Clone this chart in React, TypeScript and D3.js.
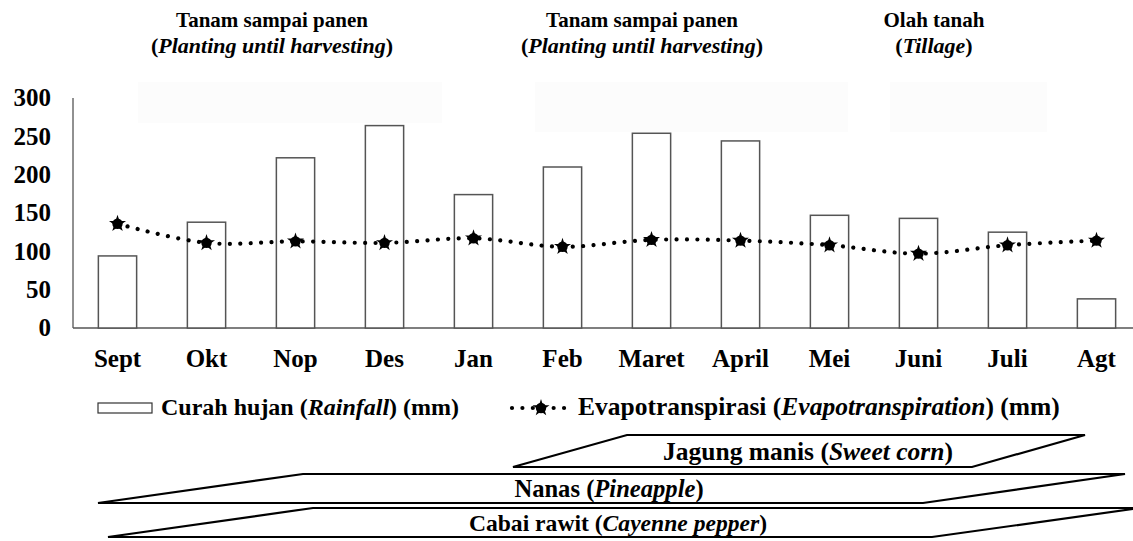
import React from 'react';
import * as d3 from 'd3';

const months = ['Sept', 'Okt', 'Nop', 'Des', 'Jan', 'Feb', 'Maret', 'April', 'Mei', 'Juni', 'Juli', 'Agt'];
const rainfall = [94, 138, 222, 264, 174, 210, 254, 244, 147, 143, 125, 38];
const evapo = [136, 111, 113, 111, 117, 106, 115, 114, 108, 97, 108, 114];
const yTicks = [0, 50, 100, 150, 200, 250, 300];

const headingTitles = ['Tanam sampai panen', 'Tanam sampai panen', 'Olah tanah'];
const headingEnglish = ['Planting until harvesting', 'Planting until harvesting', 'Tillage'];

const cropNames = ['Jagung manis', 'Nanas', 'Cabai rawit'];
const cropEnglish = ['Sweet corn', 'Pineapple', 'Cayenne pepper'];

const W = 1133;
const H = 541;
const FAM = 'Liberation Serif';
const CSS = `.t, .t tspan { font-family: 'Liberation Serif', 'Times New Roman', Tinos, serif !important; font-weight: bold; }`;

// layout for annotation graphics (not data)
const headingX = [272, 642, 934];
const cropShapes = [
  { pts: [[627, 435], [1085, 435], [972, 467], [513, 467]], tx: 808, ty: 460, fs: 25.5 },
  { pts: [[303, 474], [1125, 474], [923, 503], [98, 503]], tx: 609, ty: 497, fs: 24.6 },
  { pts: [[313, 508], [1140, 508], [932, 537], [108, 537]], tx: 618, ty: 531, fs: 23.6 },
];

export default function App() {
  const x = d3.scaleBand<string>().domain(months).range([73, 1141]).paddingInner(0.57).paddingOuter(0.285);
  const y = d3.scaleLinear().domain([0, 300]).range([328, 98]);
  const cx = (m: string) => (x(m) as number) + x.bandwidth() / 2;

  const line = d3
    .line<number>()
    .x((_, i) => cx(months[i]))
    .y((d) => y(d))
    .curve(d3.curveCatmullRom.alpha(0.5));

  const star = d3.symbol().type(d3.symbolStar).size(90)();

  const lineDash = '0.01 10.4';

  const marker = (key: string | number, tx: number, ty: number) => (
    <g key={key} transform={`translate(${tx},${ty})`}>
      <circle r={5.2} fill="#000" />
      <path d={star} fill="#000" />
    </g>
  );

  return (
    <svg width={W} height={H} fontFamily={FAM} style={{ position: 'absolute', left: 0, top: 0 }}>
      <style>{CSS}</style>
      {/* faint boxes behind headings */}
      <rect x={138} y={82} width={304} height={41} fill="#fcfcfc" />
      <rect x={535} y={82} width={313} height={50} fill="#fcfcfc" />
      <rect x={890} y={82} width={157} height={50} fill="#fcfcfc" />

      {headingTitles.map((t, i) => (
        <g key={i}>
          <text className="t" x={headingX[i]} y={27} textAnchor="middle" fontSize={21} fontFamily={FAM}>
            {t}
          </text>
          <text className="t" x={headingX[i]} y={53} textAnchor="middle" fontSize={22} fontFamily={FAM}>
            (<tspan fontStyle="italic">{headingEnglish[i]}</tspan>)
          </text>
        </g>
      ))}

      {/* axes */}
      <line x1={73} x2={73} y1={y(300)} y2={y(0)} stroke="#222" strokeWidth={1} />
      <line x1={73} x2={W} y1={y(0)} y2={y(0)} stroke="#555" strokeWidth={1.5} />

      {yTicks.map((t) => (
        <text key={t} className="t" x={51} y={y(t)} dy="0.33em" textAnchor="end" fontSize={25} fontFamily={FAM}>
          {t}
        </text>
      ))}

      {months.map((m) => (
        <text key={m} className="t" x={cx(m)} y={367} textAnchor="middle" fontSize={25} fontFamily={FAM}>
          {m}
        </text>
      ))}

      {/* bars */}
      {rainfall.map((v, i) => (
        <rect
          key={i}
          x={x(months[i])}
          y={y(v)}
          width={x.bandwidth()}
          height={y(0) - y(v)}
          fill="#fff"
          stroke="#555"
          strokeWidth={1.5}
        />
      ))}

      {/* evapotranspiration */}
      <path d={line(evapo) || ''} fill="none" stroke="#000" strokeWidth={4.2} strokeLinecap="round" strokeDasharray={lineDash} />
      {evapo.map((v, i) => marker(i, cx(months[i]), y(v)))}

      {/* legend */}
      <rect x={98} y={403} width={54} height={10} fill="#fff" stroke="#333" strokeWidth={1.2} />
      <text className="t" x={161} y={415} fontSize={24} fontFamily={FAM}>
        Curah hujan (<tspan fontStyle="italic">Rainfall</tspan>) (mm)
      </text>
      <line x1={512} x2={572} y1={408} y2={408} stroke="#000" strokeWidth={4.2} strokeLinecap="round" strokeDasharray={lineDash} />
      {marker('lg', 541, 408)}
      <text className="t" x={578} y={415} fontSize={25.5} fontFamily={FAM}>
        Evapotranspirasi (<tspan fontStyle="italic">Evapotranspiration</tspan>) (mm)
      </text>

      {/* crop calendar parallelograms */}
      {cropNames.map((name, i) => {
        const s = cropShapes[i];
        return (
          <g key={i}>
            <polygon points={s.pts.map((p) => p.join(',')).join(' ')} fill="#fff" stroke="#000" strokeWidth={2.2} />
            <text className="t" x={s.tx} y={s.ty} textAnchor="middle" fontSize={s.fs} fontFamily={FAM}>
              {name} (<tspan fontStyle="italic">{cropEnglish[i]}</tspan>)
            </text>
          </g>
        );
      })}
    </svg>
  );
}
